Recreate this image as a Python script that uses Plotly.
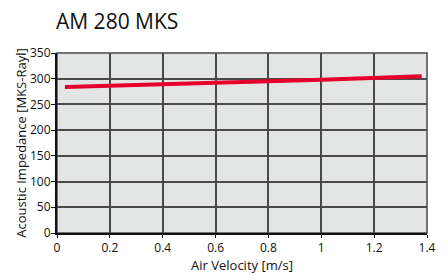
import plotly.graph_objects as go

velocity = [0.03, 0.2, 0.4, 0.6, 0.8, 1.0, 1.2, 1.38]
impedance = [284, 286, 289, 292, 295, 298, 301, 305]

x_ticks = [0, 0.2, 0.4, 0.6, 0.8, 1, 1.2, 1.4]
x_labels = ["0", "0.2", "0.4", "0.6", "0.8", "1", "1.2", "1.4"]
y_ticks = [0, 50, 100, 150, 200, 250, 300, 350]

font_family = "Open Sans, DejaVu Sans, sans-serif"

# page body has an 8px margin; figure is sized so it ends at the window edge
W, H = 439, 267

fig = go.Figure()
fig.add_trace(go.Scatter(
    x=velocity, y=impedance, mode="lines",
    line=dict(color="#e4002b", width=4),
    showlegend=False,
))

fig.update_layout(
    width=W, height=H,
    margin=dict(l=49, r=20, t=45, b=42, autoexpand=False),
    paper_bgcolor="white",
    plot_bgcolor="#e3e4e4",
    font=dict(family=font_family, color="#111", size=12),
    title=dict(text="AM 280 MKS", x=48/W, xanchor="left", y=1 - 14/H, yanchor="middle",
               font=dict(size=21, color="#111", family=font_family)),
)
fig.update_xaxes(
    range=[0, 1.4], tickvals=x_ticks, ticktext=x_labels,
    showgrid=True, gridcolor="#4a4a4a", gridwidth=1.5,
    showline=True, linecolor="#111", linewidth=2,
    ticks="outside", ticklen=3, tickcolor="#111",
    zeroline=False, automargin=False,
    title=dict(text="Air Velocity [m/s]", font=dict(size=13), standoff=2),
)
fig.update_yaxes(
    range=[0, 350], tickvals=y_ticks,
    showgrid=True, gridcolor="#4a4a4a", gridwidth=1.5,
    showline=True, linecolor="#111", linewidth=2,
    ticks="outside", ticklen=4, tickcolor="#111",
    ticklabelstandoff=-2,
    zeroline=False, automargin=False,
    title=dict(text="Acoustic Impedance [MKS-Rayl]", font=dict(size=13), standoff=0),
)
fig.add_shape(type="rect", xref="paper", yref="paper", x0=0, y0=0, x1=1, y1=1,
              line=dict(color="#4a4a4a", width=1.5), layer="below")

fig.write_html("out.html")
